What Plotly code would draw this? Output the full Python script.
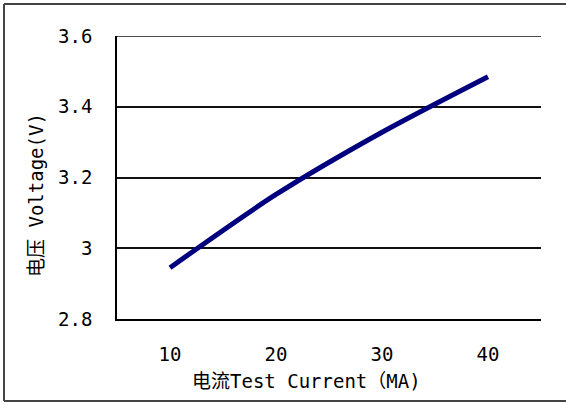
import plotly.graph_objects as go

current = [10, 20, 30, 40]
voltage = [2.945, 3.152, 3.328, 3.485]
x_ticks = [10, 20, 30, 40]
y_ticks = [2.8, 3.0, 3.2, 3.4, 3.6]
y_tick_text = ["2.8", "3", "3.2", "3.4", "3.6"]

FONT = "DejaVu Sans Mono, Noto Sans CJK SC, sans-serif"

fig = go.Figure()
fig.add_trace(go.Scatter(
    x=current, y=voltage, mode="lines",
    line=dict(color="#00007f", width=5, shape="spline", smoothing=0.8),
    showlegend=False, hoverinfo="skip",
))

L, R, T, B = 117, 25, 36, 84
W, H = 566, 403
pw, ph = W - L - R, H - T - B

def px(x):
    return (x - L) / pw

def py(y):
    return (H - B - y) / ph

fig.update_layout(
    width=W, height=H,
    margin=dict(l=L, r=R, t=T, b=B, pad=0),
    paper_bgcolor="white", plot_bgcolor="white",
    font=dict(family=FONT, size=20, color="black"),
    xaxis=dict(
        range=[5, 45], tickvals=x_ticks, ticktext=[str(v) for v in x_ticks],
        showgrid=False, zeroline=False, showline=True, linecolor="black", linewidth=1.5,
        ticks="", ticklabelstandoff=17, fixedrange=True,
        tickfont=dict(family=FONT, size=19, color="black"),
    ),
    yaxis=dict(
        range=[2.8, 3.6], tickvals=y_ticks, ticktext=y_tick_text,
        showgrid=True, gridcolor="#111111", gridwidth=1.5,
        zeroline=False, showline=True, linecolor="black", linewidth=1.5,
        ticks="", ticklabelstandoff=19, fixedrange=True,
        tickfont=dict(family=FONT, size=19, color="black"),
    ),
    shapes=[
        dict(type="line", xref="paper", yref="paper", x0=px(4), x1=px(570), y0=py(4), y1=py(4),
             line=dict(color="#444444", width=2)),
        dict(type="line", xref="paper", yref="paper", x0=px(4), x1=px(570), y0=py(401), y1=py(401),
             line=dict(color="#444444", width=2)),
        dict(type="line", xref="paper", yref="paper", x0=px(4), x1=px(4), y0=py(4), y1=py(401),
             line=dict(color="#444444", width=2)),
        dict(type="line", xref="paper", yref="y", x0=0, x1=1, y0=3.6, y1=3.6,
             line=dict(color="#111111", width=1.5)),
    ],
    annotations=[
        dict(text="电流Test Current（MA)", xref="paper", yref="paper",
             x=px(306), y=py(381), xanchor="center", yanchor="middle", showarrow=False,
             font=dict(family=FONT, size=19, color="black")),
        dict(text="电压 Voltage(V)", xref="paper", yref="paper", textangle=-90,
             x=px(36), y=py(195), xanchor="center", yanchor="middle", showarrow=False,
             font=dict(family=FONT, size=19, color="black")),
    ],
)

fig.write_html("out.html", config={"displayModeBar": False},
               post_script="document.body.style.margin='0';")
